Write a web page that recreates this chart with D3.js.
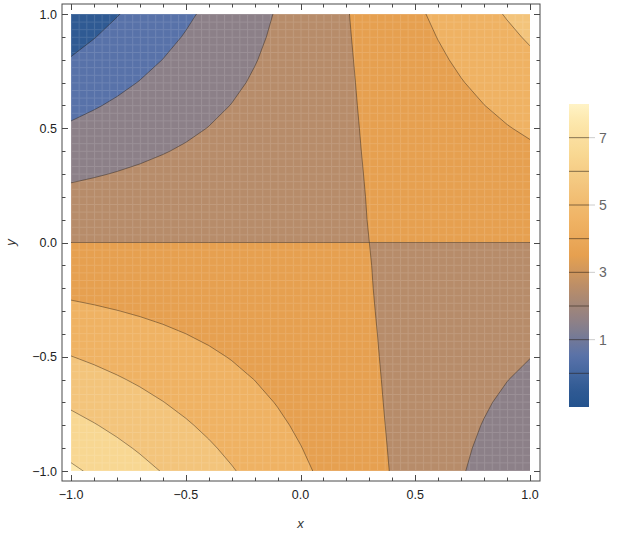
<!DOCTYPE html>
<html>
<head>
<meta charset="utf-8">
<script src="https://cdn.jsdelivr.net/npm/d3@7"></script>
<style>
  body { margin: 0; background: #fff; }
  svg { display: block; font-family: "Liberation Sans", Arial, sans-serif; }
</style>
</head>
<body>
<svg id="canvas"></svg>
<script>
// surface values, rows run from y = 1 (top) to y = -1,
// columns from x = -1 to x = 1 in steps of 0.1
const zRows = [
  [-0.640, -0.340, -0.040, 0.260, 0.560, 0.860, 1.160, 1.460, 1.760, 2.060, 2.360, 2.660, 2.960, 3.260, 3.560, 3.860, 4.160, 4.460, 4.760, 5.060, 5.360],
  [-0.299, -0.029, 0.241, 0.511, 0.781, 1.051, 1.321, 1.591, 1.861, 2.131, 2.401, 2.671, 2.941, 3.211, 3.481, 3.751, 4.021, 4.291, 4.561, 4.831, 5.101],
  [0.046, 0.286, 0.526, 0.766, 1.006, 1.246, 1.486, 1.726, 1.966, 2.206, 2.446, 2.686, 2.926, 3.166, 3.406, 3.646, 3.886, 4.126, 4.366, 4.606, 4.846],
  [0.397, 0.607, 0.817, 1.027, 1.237, 1.447, 1.657, 1.867, 2.077, 2.287, 2.497, 2.707, 2.917, 3.127, 3.337, 3.547, 3.757, 3.967, 4.177, 4.387, 4.597],
  [0.754, 0.934, 1.114, 1.294, 1.474, 1.654, 1.834, 2.014, 2.194, 2.374, 2.554, 2.734, 2.914, 3.094, 3.274, 3.454, 3.634, 3.814, 3.994, 4.174, 4.354],
  [1.115, 1.265, 1.415, 1.565, 1.715, 1.865, 2.015, 2.165, 2.315, 2.465, 2.615, 2.765, 2.915, 3.065, 3.215, 3.365, 3.515, 3.665, 3.815, 3.965, 4.115],
  [1.482, 1.602, 1.722, 1.842, 1.962, 2.082, 2.202, 2.322, 2.442, 2.562, 2.682, 2.802, 2.922, 3.042, 3.162, 3.282, 3.402, 3.522, 3.642, 3.762, 3.882],
  [1.853, 1.943, 2.033, 2.123, 2.213, 2.303, 2.393, 2.483, 2.573, 2.663, 2.753, 2.843, 2.933, 3.023, 3.113, 3.203, 3.293, 3.383, 3.473, 3.563, 3.653],
  [2.230, 2.290, 2.350, 2.410, 2.470, 2.530, 2.590, 2.650, 2.710, 2.770, 2.830, 2.890, 2.950, 3.010, 3.070, 3.130, 3.190, 3.250, 3.310, 3.370, 3.430],
  [2.613, 2.643, 2.673, 2.703, 2.733, 2.763, 2.793, 2.823, 2.853, 2.883, 2.913, 2.943, 2.973, 3.003, 3.033, 3.063, 3.093, 3.123, 3.153, 3.183, 3.213],
  [3.000, 3.000, 3.000, 3.000, 3.000, 3.000, 3.000, 3.000, 3.000, 3.000, 3.000, 3.000, 3.000, 3.000, 3.000, 3.000, 3.000, 3.000, 3.000, 3.000, 3.000],
  [3.393, 3.363, 3.333, 3.303, 3.273, 3.243, 3.213, 3.183, 3.153, 3.123, 3.093, 3.063, 3.033, 3.003, 2.973, 2.943, 2.913, 2.883, 2.853, 2.823, 2.793],
  [3.790, 3.730, 3.670, 3.610, 3.550, 3.490, 3.430, 3.370, 3.310, 3.250, 3.190, 3.130, 3.070, 3.010, 2.950, 2.890, 2.830, 2.770, 2.710, 2.650, 2.590],
  [4.193, 4.103, 4.013, 3.923, 3.833, 3.743, 3.653, 3.563, 3.473, 3.383, 3.293, 3.203, 3.113, 3.023, 2.933, 2.843, 2.753, 2.663, 2.573, 2.483, 2.393],
  [4.602, 4.482, 4.362, 4.242, 4.122, 4.002, 3.882, 3.762, 3.642, 3.522, 3.402, 3.282, 3.162, 3.042, 2.922, 2.802, 2.682, 2.562, 2.442, 2.322, 2.202],
  [5.015, 4.865, 4.715, 4.565, 4.415, 4.265, 4.115, 3.965, 3.815, 3.665, 3.515, 3.365, 3.215, 3.065, 2.915, 2.765, 2.615, 2.465, 2.315, 2.165, 2.015],
  [5.434, 5.254, 5.074, 4.894, 4.714, 4.534, 4.354, 4.174, 3.994, 3.814, 3.634, 3.454, 3.274, 3.094, 2.914, 2.734, 2.554, 2.374, 2.194, 2.014, 1.834],
  [5.857, 5.647, 5.437, 5.227, 5.017, 4.807, 4.597, 4.387, 4.177, 3.967, 3.757, 3.547, 3.337, 3.127, 2.917, 2.707, 2.497, 2.287, 2.077, 1.867, 1.657],
  [6.286, 6.046, 5.806, 5.566, 5.326, 5.086, 4.846, 4.606, 4.366, 4.126, 3.886, 3.646, 3.406, 3.166, 2.926, 2.686, 2.446, 2.206, 1.966, 1.726, 1.486],
  [6.721, 6.451, 6.181, 5.911, 5.641, 5.371, 5.101, 4.831, 4.561, 4.291, 4.021, 3.751, 3.481, 3.211, 2.941, 2.671, 2.401, 2.131, 1.861, 1.591, 1.321],
  [7.160, 6.860, 6.560, 6.260, 5.960, 5.660, 5.360, 5.060, 4.760, 4.460, 4.160, 3.860, 3.560, 3.260, 2.960, 2.660, 2.360, 2.060, 1.760, 1.460, 1.160]
];

const contourLevels = [0, 1, 2, 3, 4, 5, 6, 7];
const axisTicks = [-1, -0.5, 0, 0.5, 1];
const axisTickLabels = ["\u22121.0", "\u22120.5", "0.0", "0.5", "1.0"];
const legendTicks = [1, 3, 5, 7];
const legendRange = [-1, 8];

const width = 619;
const height = 534;
const svg = d3.select("#canvas").attr("width", width).attr("height", height);

// frame box and the padded plot region inside it
const frame = { left: 62, right: 540, top: 4, bottom: 481 };
const x = d3.scaleLinear().domain([-1, 1]).range([71, 530]);
const y = d3.scaleLinear().domain([-1, 1]).range([471, 14]);

// colour ramp (blue -> grey -> orange -> pale yellow)
const ramp = d3.scaleLinear()
    .domain([-1, -0.5, 0.5, 1.5, 2.5, 3.5, 4.5, 5.5, 6.5, 7.5, 8])
    .range(["#24528e", "#2f5a93", "#5872a9", "#8c8088", "#b78c6a", "#e6a050",
            "#efb263", "#f3c47b", "#f8d792", "#fde8ad", "#fff3c6"]);

// contour polygons; nudge each level a hair up so the saddle at
// (0.3, 0) doesn't get cut across by marching squares
const nx = zRows[0].length;
const ny = zRows.length;
const eps = 1e-6;
const thresholds = [legendRange[0]].concat(contourLevels).map(t => t + eps);
const bands = d3.contours()
    .size([nx, ny])
    .thresholds(thresholds)(zRows.flat());
bands.forEach(b => b.level = Math.round(b.value));

// grid coords -> data coords -> screen (d3.contours puts samples at i + 0.5)
const toScreen = d3.geoTransform({
    point: function(px, py) {
        this.stream.point(
            x(-1 + (px - 0.5) * 2 / (nx - 1)),
            y(1 - (py - 0.5) * 2 / (ny - 1))
        );
    }
});
const path = d3.geoPath(toScreen);

const defs = svg.append("defs");
defs.append("clipPath").attr("id", "plotclip")
  .append("rect")
    .attr("x", x(-1)).attr("y", y(1))
    .attr("width", x(1) - x(-1)).attr("height", y(-1) - y(1));

// faint mesh texture like the rendered original
const mesh = defs.append("pattern")
    .attr("id", "mesh")
    .attr("patternUnits", "userSpaceOnUse")
    .attr("x", x(-1)).attr("y", y(1))
    .attr("width", 7.65).attr("height", 7.6);
mesh.append("path")
    .attr("d", "M0,0.5H7.65M0.5,0V7.6")
    .attr("stroke", "#fff")
    .attr("stroke-opacity", 0.12)
    .attr("stroke-width", 1);

const plot = svg.append("g").attr("clip-path", "url(#plotclip)");

// filled bands, lowest threshold covers the whole square
plot.selectAll("path.band")
    .data(bands)
    .join("path")
    .attr("class", "band")
    .attr("d", path)
    .attr("fill", d => ramp(d.level + 0.5));

plot.append("rect")
    .attr("x", x(-1)).attr("y", y(1))
    .attr("width", x(1) - x(-1)).attr("height", y(-1) - y(1))
    .attr("fill", "url(#mesh)");

plot.selectAll("path.line")
    .data(bands.filter(d => d.level >= contourLevels[0]))
    .join("path")
    .attr("class", "line")
    .attr("d", path)
    .attr("fill", "none")
    .attr("stroke", "rgba(40,30,20,0.55)")
    .attr("stroke-width", 0.8);

// frame
svg.append("rect")
    .attr("x", frame.left).attr("y", frame.top)
    .attr("width", frame.right - frame.left)
    .attr("height", frame.bottom - frame.top)
    .attr("fill", "none")
    .attr("stroke", "#4a4a4a")
    .attr("stroke-width", 1);

// ticks on all four sides, pointing in
const tickVals = d3.range(-10, 11).map(i => i / 10);
const isMajor = v => Math.abs(v * 2 - Math.round(v * 2)) < 1e-9;
const tickG = svg.append("g").attr("stroke", "#4a4a4a").attr("stroke-width", 1);
tickVals.forEach(v => {
    const len = isMajor(v) ? 6 : 3.5;
    const px = Math.round(x(v)) + 0.5;
    const py = Math.round(y(v)) + 0.5;
    tickG.append("line").attr("x1", px).attr("x2", px).attr("y1", frame.bottom).attr("y2", frame.bottom - len);
    tickG.append("line").attr("x1", px).attr("x2", px).attr("y1", frame.top).attr("y2", frame.top + len);
    tickG.append("line").attr("y1", py).attr("y2", py).attr("x1", frame.left).attr("x2", frame.left + len);
    tickG.append("line").attr("y1", py).attr("y2", py).attr("x1", frame.right).attr("x2", frame.right - len);
});

// tick labels
svg.selectAll("text.xtick")
    .data(axisTicks)
    .join("text")
    .attr("class", "xtick")
    .attr("x", d => x(d))
    .attr("y", 499)
    .attr("text-anchor", "middle")
    .attr("font-size", 12.5)
    .attr("fill", "#222")
    .text((d, i) => axisTickLabels[i]);

svg.selectAll("text.ytick")
    .data(axisTicks)
    .join("text")
    .attr("class", "ytick")
    .attr("x", 57)
    .attr("y", d => y(d) + 4.5)
    .attr("text-anchor", "end")
    .attr("font-size", 12.5)
    .attr("fill", "#222")
    .text((d, i) => axisTickLabels[i]);

// axis titles
svg.append("text")
    .attr("x", x(0)).attr("y", 528)
    .attr("text-anchor", "middle")
    .attr("font-size", 13)
    .attr("font-style", "italic")
    .attr("fill", "#333")
    .text("x");

svg.append("text")
    .attr("transform", `translate(15,${y(0)}) rotate(-90)`)
    .attr("text-anchor", "middle")
    .attr("font-size", 13)
    .attr("font-style", "italic")
    .attr("fill", "#333")
    .text("y");

// colour bar legend
const bar = { left: 569, width: 20, top: 104, bottom: 407 };
const barY = d3.scaleLinear().domain(legendRange).range([bar.bottom, bar.top]);

const grad = defs.append("linearGradient")
    .attr("id", "bargrad")
    .attr("x1", 0).attr("y1", 1).attr("x2", 0).attr("y2", 0);
d3.range(0, 1.0001, 0.025).forEach(t => {
    const v = legendRange[0] + t * (legendRange[1] - legendRange[0]);
    grad.append("stop").attr("offset", t).attr("stop-color", ramp(v));
});

svg.append("rect")
    .attr("x", bar.left).attr("y", bar.top)
    .attr("width", bar.width).attr("height", bar.bottom - bar.top)
    .attr("fill", "url(#bargrad)");

svg.selectAll("line.barlevel")
    .data(contourLevels)
    .join("line")
    .attr("class", "barlevel")
    .attr("x1", bar.left).attr("x2", bar.left + bar.width)
    .attr("y1", d => barY(d)).attr("y2", d => barY(d))
    .attr("stroke", "rgba(40,30,20,0.55)")
    .attr("stroke-width", 1);

svg.selectAll("line.bartick")
    .data(legendTicks)
    .join("line")
    .attr("class", "bartick")
    .attr("x1", bar.left + bar.width).attr("x2", bar.left + bar.width + 6)
    .attr("y1", d => barY(d)).attr("y2", d => barY(d))
    .attr("stroke", "#ccc")
    .attr("stroke-width", 1);

svg.selectAll("text.bartick")
    .data(legendTicks)
    .join("text")
    .attr("class", "bartick")
    .attr("x", 599)
    .attr("y", d => barY(d) + 5)
    .attr("font-size", 14)
    .attr("fill", "#666")
    .text(d => d);
</script>
</body>
</html>
